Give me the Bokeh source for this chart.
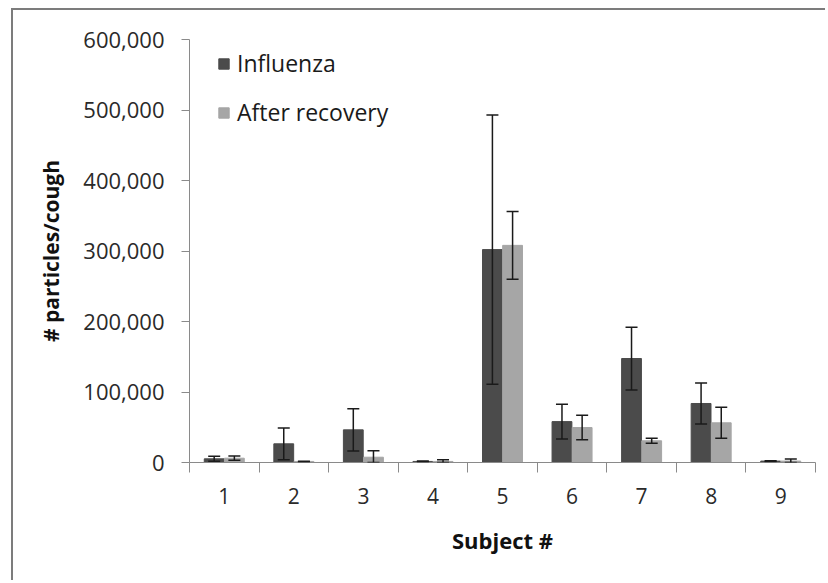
import numpy as np
from bokeh.plotting import figure
from bokeh.models import (ColumnDataSource, Range1d, LinearAxis, FixedTicker,
                          NumeralTickFormatter, CustomJSTickFormatter, Legend,
                          LegendItem, Whisker, TeeHead)
from bokeh.transform import dodge
from bokeh.embed import file_html
from bokeh.resources import INLINE

# ---- data ----
subjects = [1, 2, 3, 4, 5, 6, 7, 8, 9]
influenza = [5200, 26500, 46300, 1500, 302000, 58000, 147500, 83700, 2000]
influenza_err = [3500, 22500, 30000, 500, 191000, 24500, 44500, 29000, 600]
recovery = [6100, 1500, 7500, 1500, 308000, 49600, 30800, 56300, 2000]
recovery_err = [3000, 300, 9000, 2500, 48000, 17500, 3500, 22000, 3000]
series_names = ["Influenza", "After recovery"]
y_ticks = [0, 100000, 200000, 300000, 400000, 500000, 600000]

DARK = "#4b4b4b"
LIGHT = "#a6a6a6"
FONT = "Open Sans"
AXIS_GRAY = "#8a8a8a"

inf = np.array(influenza, dtype=float)
inf_e = np.array(influenza_err, dtype=float)
rec = np.array(recovery, dtype=float)
rec_e = np.array(recovery_err, dtype=float)

src = ColumnDataSource(dict(
    subject=subjects,
    inf=inf, inf_up=inf + inf_e, inf_lo=np.maximum(inf - inf_e, 0),
    rec=rec, rec_up=rec + rec_e, rec_lo=np.maximum(rec - rec_e, 0),
))

p = figure(width=814, height=572, output_backend="svg", toolbar_location=None,
           x_range=Range1d(0.5, len(subjects) + 0.5),
           y_range=Range1d(y_ticks[0], y_ticks[-1]),
           x_axis_location=None, y_axis_location=None,
           min_border_left=176, min_border_right=12,
           min_border_top=29, min_border_bottom=120,
           styles={"margin-left": "11px", "margin-top": "8px",
                   "border-left": "2px solid #7c7c7c",
                   "border-top": "2px solid #7c7c7c"})
p.outline_line_color = None
p.xgrid.visible = False
p.ygrid.visible = False
p.background_fill_color = "white"
p.border_fill_color = "white"

OFF = 0.145
BW = 0.285
r1 = p.vbar(x=dodge("subject", -OFF), top="inf", bottom=0, width=BW,
            source=src, fill_color=DARK, line_color=DARK)
r2 = p.vbar(x=dodge("subject", OFF), top="rec", bottom=0, width=BW,
            source=src, fill_color=LIGHT, line_color=LIGHT)

for base, up, lo in [(dodge("subject", -OFF), "inf_up", "inf_lo"),
                     (dodge("subject", OFF), "rec_up", "rec_lo")]:
    w = Whisker(source=src, base=base, upper=up, lower=lo, level="overlay",
                line_color="#1a1a1a", line_width=1.5,
                upper_head=TeeHead(size=12, line_color="#1a1a1a", line_width=1.5),
                lower_head=TeeHead(size=12, line_color="#1a1a1a", line_width=1.5))
    p.add_layout(w)

# y axis
yax = LinearAxis(ticker=FixedTicker(ticks=y_ticks),
                 formatter=NumeralTickFormatter(format="0,0"),
                 axis_label="# particles/cough")
yax.axis_line_color = AXIS_GRAY
yax.major_tick_line_color = AXIS_GRAY
yax.major_tick_in = 0
yax.major_tick_out = 8
yax.minor_tick_line_color = None
yax.major_label_standoff = 17
yax.major_label_text_font = FONT
yax.major_label_text_font_size = "22px"
yax.major_label_text_color = "#2a2a2a"
yax.axis_label_text_font = FONT
yax.axis_label_text_font_style = "bold"
yax.axis_label_text_font_size = "21px"
yax.axis_label_text_color = "#111111"
yax.axis_label_standoff = 15
p.add_layout(yax, "left")

# x axis: boundary ticks
bounds = [s - 0.5 for s in subjects] + [subjects[-1] + 0.5]
xb = LinearAxis(ticker=FixedTicker(ticks=bounds),
                formatter=CustomJSTickFormatter(code="return ''"))
xb.axis_line_color = AXIS_GRAY
xb.major_tick_line_color = AXIS_GRAY
xb.major_tick_in = 0
xb.major_tick_out = 10
xb.minor_tick_line_color = None
xb.major_label_standoff = 0
xb.major_label_text_font_size = "1px"
p.add_layout(xb, "below")

# x axis: labels at category centers
xl = LinearAxis(ticker=FixedTicker(ticks=subjects), axis_label="Subject #")
xl.axis_line_color = None
xl.major_tick_line_color = None
xl.major_tick_in = 0
xl.major_tick_out = 0
xl.minor_tick_line_color = None
xl.major_label_standoff = 15
xl.major_label_text_font = FONT
xl.major_label_text_font_size = "21px"
xl.major_label_text_color = "#2a2a2a"
xl.axis_label_text_font = FONT
xl.axis_label_text_font_style = "bold"
xl.axis_label_text_font_size = "22px"
xl.axis_label_text_color = "#111111"
xl.axis_label_standoff = 18
p.add_layout(xl, "below")

legend = Legend(items=[LegendItem(label=series_names[0], renderers=[r1]),
                       LegendItem(label=series_names[1], renderers=[r2])],
                location=(28, 334), orientation="vertical")
legend.border_line_color = None
legend.background_fill_alpha = 0
legend.padding = 0
legend.margin = 0
legend.spacing = 17
legend.glyph_width = 13
legend.glyph_height = 13
legend.label_standoff = 7
legend.label_text_font = FONT
legend.label_text_font_size = "23px"
legend.label_text_color = "#1a1a1a"
p.add_layout(legend, "center")

open("out.html", "w").write(file_html(p, INLINE))
